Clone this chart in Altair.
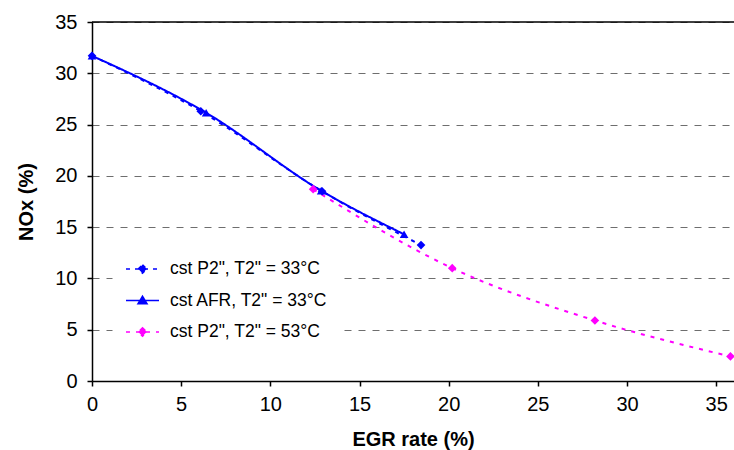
import altair as alt
import pandas as pd

# ---- data ----
S1 = 'cst P2", T2" = 33°C'
S2 = 'cst AFR, T2" = 33°C'
S3 = 'cst P2", T2" = 53°C'
series_names = [S1, S2, S3]

s1_egr = [0.0, 6.1, 12.9, 18.45]
s1_nox = [31.7, 26.3, 18.5, 13.25]

s2_egr = [0.0, 6.4, 12.85, 17.5]
s2_nox = [31.7, 26.15, 18.55, 14.3]

s3_egr = [12.4, 20.2, 28.2, 35.8]
s3_nox = [18.7, 11.0, 5.9, 2.4]

x_ticks = [0, 5, 10, 15, 20, 25, 30, 35]
y_ticks = [0, 5, 10, 15, 20, 25, 30, 35]
X_MAX = 36
Y_MAX = 35

# ---- styles ----
colors = ["#0000FF", "#0000FF", "#FF00FF"]
dashes = [[4, 5], [1, 0], [4, 6]]
shapes = ["diamond", "triangle-up", "diamond"]
legend_paths = [
    "M-1.1,0L1.1,0M0,-0.28L0.28,0L0,0.28L-0.28,0Z",
    "M-1.1,0L1.1,0M0,-0.28L0.3,0.22L-0.3,0.22Z",
    "M-1.1,0L1.1,0M0,-0.28L0.28,0L0,0.28L-0.28,0Z",
]

rows = []
for sid, (name, xs, ys) in enumerate(zip(series_names, [s1_egr, s2_egr, s3_egr], [s1_nox, s2_nox, s3_nox])):
    for xv, yv in zip(xs, ys):
        rows.append({"series": name, "sid": sid, "egr": xv, "nox": yv})
df = pd.DataFrame(rows)

FONT = "Liberation Sans"

x_axis = alt.Axis(
    values=x_ticks, title="EGR rate (%)", grid=False,
    labelFontSize=20, titleFontSize=20, titleFontWeight="bold",
    labelPadding=8, titlePadding=15, tickSize=5, tickColor="black",
    domainColor="black", domainWidth=1.5, tickWidth=1.5,
    labelColor="black", titleColor="black", labelFlush=False,
)
y_axis = alt.Axis(
    values=y_ticks, title="NOx (%)", grid=True, gridDash=[7, 7],
    gridColor="#6e6e6e", gridWidth=1,
    labelFontSize=20, titleFontSize=20, titleFontWeight="bold",
    labelPadding=10, titlePadding=18, tickSize=5, tickColor="black",
    domainColor="black", domainWidth=1.5, tickWidth=1.5,
    labelColor="black", titleColor="black", labelFlush=False,
)
x_scale = alt.Scale(domain=[0, X_MAX], nice=False)
y_scale = alt.Scale(domain=[0, Y_MAX], nice=False)

base = alt.Chart(df).encode(
    x=alt.X("egr:Q", scale=x_scale, axis=x_axis),
    y=alt.Y("nox:Q", scale=y_scale, axis=y_axis),
)

order = [2, 0, 1]
line_layers = [
    base.transform_filter(alt.datum.sid == sid)
    .mark_line(interpolate="monotone", strokeWidth=2, color=colors[sid], strokeDash=dashes[sid])
    for sid in order
]
point_layers = [
    base.transform_filter(alt.datum.sid == sid)
    .mark_point(filled=True, opacity=1, size=75, color=colors[sid], shape=shapes[sid])
    for sid in order
]

top_rule = alt.Chart(pd.DataFrame({"nox": [Y_MAX]})).mark_rule(color="black", strokeWidth=1.5).encode(
    y=alt.Y("nox:Q", scale=y_scale, axis=y_axis)
)

leg = alt.Legend(
    title=None, orient="none", legendX=20.5, legendY=217, padding=14,
    fillColor="white", symbolSize=900, symbolStrokeWidth=1.6,
    labelOffset=11.5, rowPadding=6.5, labelFontSize=17.5, labelFont=FONT,
    labelColor="black", symbolOpacity=1,
)
legend_layer = (
    alt.Chart(df)
    .transform_filter("false")
    .mark_point(filled=True, opacity=1)
    .encode(
        fill=alt.Fill("series:N", scale=alt.Scale(domain=series_names, range=colors), legend=leg),
        stroke=alt.Stroke("series:N", scale=alt.Scale(domain=series_names, range=colors), legend=leg),
        shape=alt.Shape("series:N", scale=alt.Scale(domain=series_names, range=legend_paths), legend=leg),
        strokeDash=alt.StrokeDash("series:N", scale=alt.Scale(domain=series_names, range=dashes), legend=leg),
    )
)

chart = (
    alt.layer(top_rule, *line_layers, *point_layers, legend_layer)
    .properties(
        width=642, height=359,
        autosize=alt.AutoSizeParams(type="none"),
        padding={"left": 92, "top": 22, "right": 0, "bottom": 69},
        background="white",
    )
    .configure_view(stroke=None)
    .configure_axis(labelFont=FONT, titleFont=FONT)
    .configure_legend(labelFont=FONT)
)

chart.save("out.html", embed_options={"renderer": "svg", "actions": False})
